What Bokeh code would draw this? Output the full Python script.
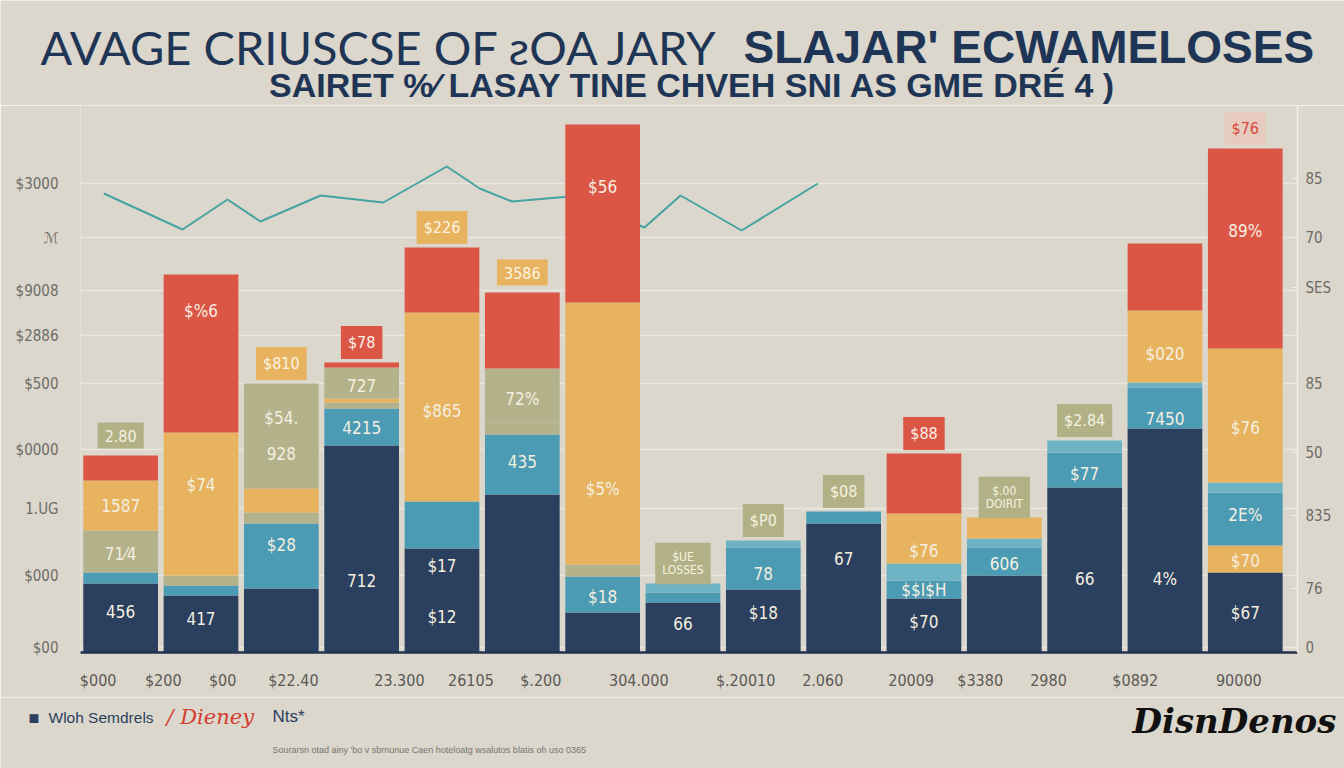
import numpy as np
from bokeh.plotting import figure
from bokeh.models import ColumnDataSource, Range1d, LinearAxis, FixedTicker
from bokeh.core.properties import value
from bokeh.embed import file_html
from bokeh.resources import INLINE

# ---------------- data ----------------
x_labels = ["$000", "$200", "$00", "$22.40", "23.300", "26105", "$.200", "304.000",
            "$.20010", "2.060", "20009", "$3380", "2980", "$0892", "90000"]
x_label_pos = [0.22, 1.03, 1.77, 2.65, 3.97, 4.86, 5.73, 6.95, 8.28, 9.24, 10.34, 11.2, 12.05, 13.13, 14.42]

left_tick_vals = [5, 77, 144, 203, 269, 317, 362, 415, 469]
left_tick_text = ["$00", "$000", "1.UG", "$0000", "$500", "$2886", "$9008", "ℳ", "$3000"]
right_tick_vals = [5, 64, 137, 200, 269, 365, 415, 474]
right_tick_text = ["0", "76", "835", "50", "85", "SES", "70", "85"]

series = ["navy", "yellow_low", "teal", "teal_light", "sage", "yellow", "sage_top", "red"]
navy       = [69, 57, 64, 207, 104, 158, 40, 50, 63, 129, 54, 77, 165, 224, 80]
yellow_low = [0, 0, 0, 0, 0, 0, 0, 0, 0, 0, 0, 0, 0, 0, 27]
teal       = [11, 10, 65, 37, 47, 60, 36, 10, 42, 12, 18, 28, 35, 41, 53]
teal_light = [0, 0, 0, 0, 0, 0, 0, 9, 7, 0, 17, 9, 12, 5, 10]
sage       = [42, 10, 11, 6, 0, 12, 12, 0, 0, 0, 0, 0, 0, 0, 0]
yellow     = [50, 143, 24, 4, 189, 0, 262, 0, 0, 0, 50, 21, 0, 72, 134]
sage_top   = [0, 0, 105, 31, 0, 54, 0, 0, 0, 0, 0, 0, 0, 0, 0]
red        = [25, 158, 0, 5, 65, 76, 178, 0, 0, 0, 60, 0, 0, 67, 200]

# segment labels: (bar, series, text, fraction within segment)
seg_labels = [
    (0, "navy", "456", 0.59), (0, "sage", "71⁄4", 0.45), (0, "yellow", "1587", 0.5),
    (1, "navy", "417", 0.6), (1, "yellow", "$74", 0.63), (1, "red", "$%6", 0.77),
    (2, "teal", "$28", 0.67), (2, "sage_top", "928", 0.33), (2, "sage_top", "$54.", 0.67),
    (3, "navy", "712", 0.35), (3, "teal", "4215", 0.5), (3, "sage_top", "727", 0.42),
    (4, "navy", "$12", 0.34), (4, "navy", "$17", 0.83), (4, "yellow", "$865", 0.48),
    (5, "teal", "435", 0.55), (5, "sage_top", "72%", 0.43),
    (6, "teal", "$18", 0.44), (6, "yellow", "$5%", 0.29), (6, "red", "$56", 0.65),
    (7, "navy", "66", 0.58),
    (8, "navy", "$18", 0.62), (8, "teal", "78", 0.38),
    (9, "navy", "67", 0.73),
    (10, "navy", "$70", 0.56), (10, "teal", "$$I$H", 0.5), (10, "yellow", "$76", 0.26),
    (11, "teal", "606", 0.43),
    (12, "navy", "66", 0.45), (12, "teal", "$77", 0.4),
    (13, "navy", "4%", 0.33), (13, "teal", "7450", 0.24), (13, "yellow", "$020", 0.4),
    (14, "navy", "$67", 0.49), (14, "yellow_low", "$70", 0.44), (14, "teal", "2E%", 0.57),
    (14, "yellow", "$76", 0.41), (14, "red", "89%", 0.59),
]

callout_bar = [0, 2, 3, 4, 5, 7, 8, 9, 10, 11, 12, 14]
callout_text = ["2.80", "$810", "$78", "$226", "3586", "$UE\nLOSSES", "$P0", "$08",
                "$88", "$.00\nDOIRIT", "$2.84", "$76"]
callout_kind = ["sage", "yellow", "red", "yellow", "yellow", "sage", "sage", "sage",
                "red", "sage", "sage", "pink"]

line_x = [0.29, 1.27, 1.83, 2.24, 2.99, 3.77, 4.56, 4.97, 5.37, 6.09, 7.02, 7.47, 8.23, 9.18]
line_y = [459, 423, 453, 431, 457, 450, 486, 464, 451, 456, 425, 457, 422, 469]

title_1a = "AVAGE CRIUSCSE OF ƨOA JARY"
title_1b = "SLAJAR' ECWAMELOSES"
title_2 = "SAIRET %⁄ LASAY TINE CHVEH SNI AS GME DRÉ 4 )"
legend_1 = "Wloh Semdrels"
legend_2 = "/ Dieney"
legend_3 = "Nts*"
footnote = "Sourarsn otad ainy 'bo v sbrnunue Caen hoteloatg wsalutos blatis oh uso 0365"
logo = "DisnDenos"

# ---------------- styles ----------------
BG = "#dbd7cc"
colors = {
    "navy": "#2b3f5e", "yellow_low": "#e7b35f", "teal": "#4b9bb4", "teal_light": "#6db3c4",
    "sage": "#b3b28b", "yellow": "#e7b35f", "sage_top": "#b3b28b", "red": "#dc5645",
}
box_colors = {"sage": "#b2b185", "yellow": "#e7b35f", "red": "#dc5645", "pink": "#e8cbbf"}
box_text_colors = {"sage": "#f6f1e2", "yellow": "#fbf3e2", "red": "#fbefe6", "pink": "#d8493a"}
TXT = "#f5efe0"
NAVY_T = "#1f3556"
NUM_FONT = "'DejaVu Sans Condensed', 'Liberation Sans Narrow', 'DejaVu Sans', sans-serif"
W = 1344


def blank_fig(h, top):
    f = figure(width=W, height=h, output_backend="svg", toolbar_location=None,
               x_range=Range1d(0, W), y_range=Range1d(top + h, top),
               x_axis_location=None, y_axis_location=None, title=None,
               min_border=0, background_fill_color=BG, border_fill_color=BG,
               outline_line_color=None)
    f.xgrid.visible = False
    f.ygrid.visible = False
    return f


# ---------------- header ----------------
head = blank_fig(105, 0)
head.text(x=[40], y=[46], text=[title_1a], text_font=value("Lato"), text_font_size="47px",
          text_color=NAVY_T, text_baseline="middle")
head.text(x=[743], y=[46], text=[title_1b], text_font=value("Liberation Sans"),
          text_font_style="bold", text_font_size="46px", text_color=NAVY_T,
          text_baseline="middle")
head.text(x=[692], y=[84], text=[title_2], text_font=value("Liberation Sans"),
          text_font_style="bold", text_font_size="34px", text_color=NAVY_T,
          text_align="center", text_baseline="middle")

# ---------------- main chart ----------------
n = len(navy)
xs = np.arange(n) + 0.5
data = dict(x=xs)
for s in series:
    data[s] = globals()[s]
src = ColumnDataSource(data)

p = figure(width=W, height=592, output_backend="svg", toolbar_location=None,
           x_range=Range1d(0, 15.15), y_range=Range1d(0, 547), title=None,
           min_border_left=80, min_border_right=47, min_border_top=0, min_border_bottom=45,
           background_fill_color=BG, border_fill_color=BG, outline_line_color=None)

p.yaxis.ticker = FixedTicker(ticks=left_tick_vals)
p.yaxis.major_label_overrides = {v: t for v, t in zip(left_tick_vals, left_tick_text)}
p.yaxis.major_tick_line_color = None
p.yaxis.minor_tick_line_color = None
p.yaxis.axis_line_color = None
p.yaxis.major_label_standoff = 16
p.yaxis.major_label_text_font_size = "15px"
p.yaxis.major_label_text_color = "#6e6c68"
p.yaxis.major_label_text_font = NUM_FONT

ra = LinearAxis(ticker=FixedTicker(ticks=right_tick_vals))
ra.major_label_overrides = {v: t for v, t in zip(right_tick_vals, right_tick_text)}
ra.axis_line_color = "#f1eee8"
ra.axis_line_width = 1.5
ra.major_tick_line_color = "#f1eee8"
ra.major_tick_in = 6
ra.major_tick_out = 0
ra.minor_tick_line_color = None
ra.major_label_standoff = 8
ra.major_label_text_font_size = "15px"
ra.major_label_text_color = "#6e6c68"
ra.major_label_text_font = NUM_FONT
p.add_layout(ra, "right")

p.xaxis.ticker = FixedTicker(ticks=x_label_pos)
p.xaxis.major_label_overrides = {v: t for v, t in zip(x_label_pos, x_labels)}
p.xaxis.major_tick_line_color = None
p.xaxis.minor_tick_line_color = None
p.xaxis.axis_line_color = "#22334f"
p.xaxis.axis_line_width = 2.5
p.xaxis.major_label_standoff = 12
p.xaxis.major_label_text_font_size = "16px"
p.xaxis.major_label_text_color = "#5b5a57"
p.xaxis.major_label_text_font = NUM_FONT

p.xgrid.grid_line_color = None
p.ygrid.grid_line_color = "#f3f1ec"
p.ygrid.grid_line_alpha = 0.6
p.ygrid.grid_line_width = 1.5

p.line(line_x, line_y, line_color="#45a3a2", line_width=2)

p.vbar_stack(series, x="x", width=0.93, source=src,
             color=[colors[s] for s in series], line_color=None)

bottoms = {}
cum = np.zeros(n)
for s in series:
    vals = np.array(globals()[s], dtype=float)
    bottoms[s] = cum.copy()
    cum = cum + vals
totals = cum

lx, ly, lt = [], [], []
for b, s, t, f in seg_labels:
    h = globals()[s][b]
    lx.append(xs[b])
    ly.append(bottoms[s][b] + f * h)
    lt.append(t)
p.text(x=lx, y=ly, text=lt, text_align="center", text_baseline="middle",
       text_color=TXT, text_font_size="17px", text_font=value(NUM_FONT))

cx = [xs[b] for b in callout_bar]
cy = [totals[b] + 20 for b in callout_bar]
csrc = ColumnDataSource(dict(
    x=cx, y=cy, text=callout_text,
    bg=[box_colors[k] for k in callout_kind],
    fg=[box_text_colors[k] for k in callout_kind],
    fs=["12px" if "\n" in t else "16px" for t in callout_text],
))
p.text(x="x", y="y", text="text", source=csrc, text_align="center", text_baseline="middle",
       text_color="fg", background_fill_color="bg", padding=7,
       text_font_size="fs", text_font=value(NUM_FONT), text_line_height=0.95)

# ---------------- footer ----------------
foot = blank_fig(71, 697)
foot.text(x=[28], y=[717], text=["■"], text_font_size="18px", text_color="#2b3f5e",
          text_baseline="middle")
foot.text(x=[48], y=[717], text=[legend_1], text_font=value("Liberation Sans"),
          text_font_size="15.5px", text_color="#2b3f5e", text_baseline="middle")
foot.text(x=[166], y=[716], text=[legend_2], text_font=value("DejaVu Serif"),
          text_font_style="italic", text_font_size="21px", text_color="#d43c2e",
          text_baseline="middle")
foot.text(x=[272], y=[716], text=[legend_3], text_font=value("Liberation Sans"),
          text_font_size="17px", text_color="#2b3f5e", text_baseline="middle")
foot.text(x=[272], y=[749], text=[footnote], text_font=value("Liberation Sans"),
          text_font_size="9px", text_color="#77746e", text_baseline="middle")
foot.text(x=[1132], y=[720], text=[logo], text_font=value("DejaVu Serif"),
          text_font_style="bold italic", text_font_size="34px", text_color="#111111",
          text_baseline="middle")

html = file_html([head, p, foot], INLINE)
html = html.replace("<body>", f'<body style="margin:0;background:{BG};">', 1)
open("out.html", "w").write(html)
